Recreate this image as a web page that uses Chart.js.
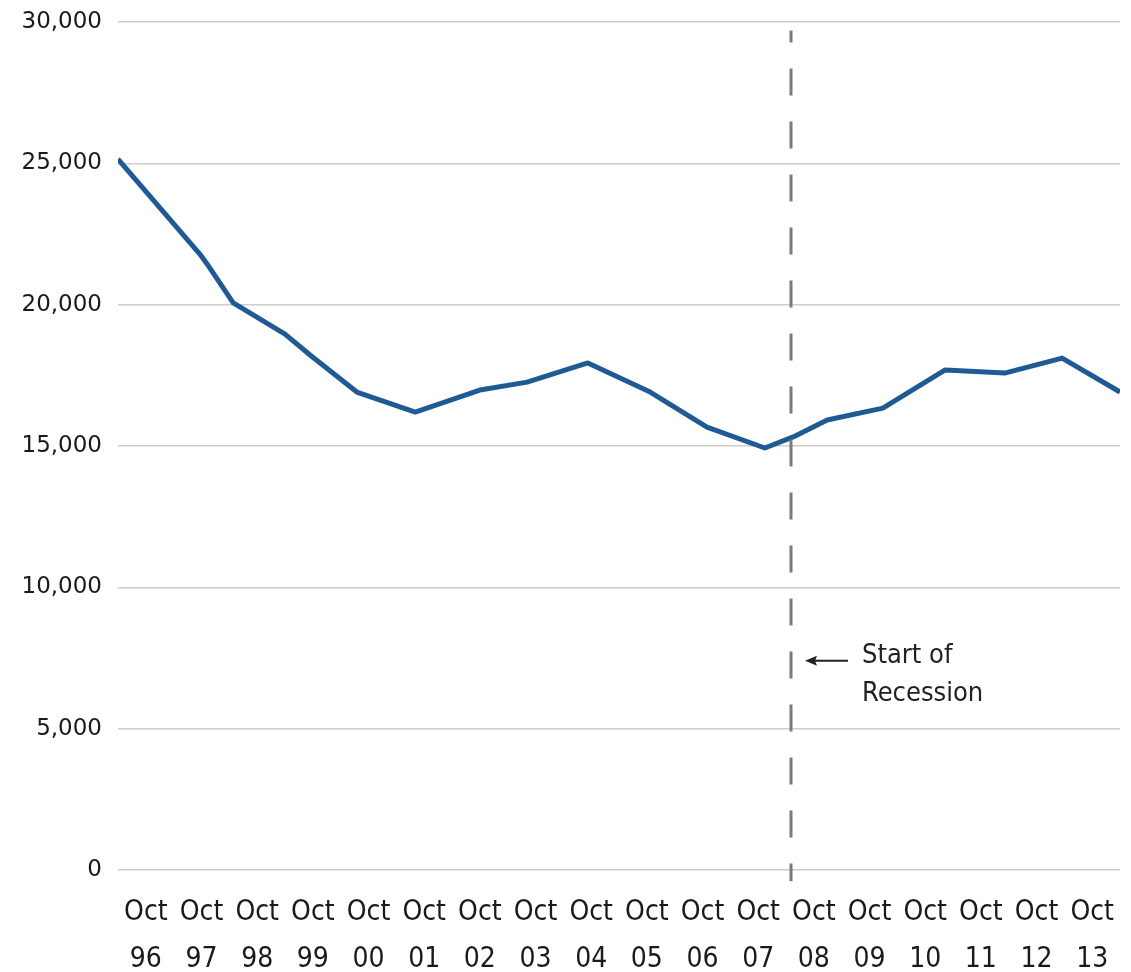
<!DOCTYPE html>
<html>
<head>
<meta charset="utf-8">
<script src="https://cdn.jsdelivr.net/npm/chart.js@4.4.1/dist/chart.umd.min.js"></script>
<style>
  html, body { margin: 0; padding: 0; background: #fff; }
  #wrap { width: 1131px; height: 972px; position: relative; }
</style>
</head>
<body>
<div id="wrap"><canvas id="myLineChart"></canvas></div>
<script>
// x positions are fractional years, each Oct label sits at the middle of its year slot
const dates = [1996.25, 1997.72, 1997.85, 1998.32, 1999.25, 1999.70, 2000.54, 2001.59, 2002.75, 2003.60,
               2004.69, 2005.81, 2006.83, 2007.87, 2008.38, 2008.99, 2009.99, 2011.11, 2012.18, 2013.21, 2014.25];
const counts = [25150, 21790, 21440, 20060, 18960, 18220, 16910, 16200, 16980, 17260,
                17940, 16910, 15670, 14930, 15320, 15920, 16340, 17690, 17580, 18110, 16910];

const tickYears = ['96', '97', '98', '99', '00', '01', '02', '03', '04', '05',
                   '06', '07', '08', '09', '10', '11', '12', '13'];
const firstTick = 1996.75;
const axisStart = 1996.25;
const axisEnd = 2014.25;

const yTicks = [0, 5000, 10000, 15000, 20000, 25000, 30000];

const recessionStart = 2008.34;
const recessionLabel = ['Start of', 'Recession'];
const recessionLabelValue = 7400;

const labelFont = '"Liberation Sans Narrow", "DejaVu Sans Condensed", sans-serif';

// dashed recession marker + arrow note
const recessionPlugin = {
    id: 'recession',
    afterDatasetsDraw(chart) {
        const ctx = chart.ctx;
        const x = chart.scales.x.getPixelForValue(recessionStart);
        const y = chart.scales.y;
        const top = y.getPixelForValue(29700);
        const bottom = y.getPixelForValue(-400);

        ctx.save();
        ctx.strokeStyle = '#7a7a7a';
        ctx.lineWidth = 3;
        ctx.setLineDash([27, 26]);
        ctx.lineDashOffset = 15;
        ctx.beginPath();
        ctx.moveTo(x, top);
        ctx.lineTo(x, bottom);
        ctx.stroke();
        ctx.setLineDash([]);

        const ay = y.getPixelForValue(recessionLabelValue);
        ctx.strokeStyle = '#222';
        ctx.fillStyle = '#222';
        ctx.lineWidth = 2;
        ctx.beginPath();
        ctx.moveTo(x + 57, ay);
        ctx.lineTo(x + 22, ay);
        ctx.stroke();
        ctx.beginPath();
        ctx.moveTo(x + 14, ay);
        ctx.lineTo(x + 26, ay - 5);
        ctx.lineTo(x + 24, ay);
        ctx.lineTo(x + 26, ay + 5);
        ctx.closePath();
        ctx.fill();

        ctx.font = '27px ' + labelFont;
        ctx.textAlign = 'left';
        ctx.textBaseline = 'middle';
        ctx.fillText(recessionLabel[0], x + 71, ay - 5);
        ctx.fillText(recessionLabel[1], x + 71, ay + 33);
        ctx.restore();
    }
};

const ctx = document.getElementById('myLineChart').getContext('2d');
new Chart(ctx, {
    type: 'line',
    data: {
        datasets: [{
            data: dates.map((d, i) => ({ x: d, y: counts[i] })),
            borderColor: '#1f5a95',
            borderWidth: 5,
            borderJoinStyle: 'round',
            pointRadius: 0,
            tension: 0,
            fill: false
        }]
    },
    options: {
        responsive: true,
        maintainAspectRatio: false,
        animation: false,
        layout: {
            padding: { top: 22, right: 11, bottom: 0, left: 0 }
        },
        plugins: {
            legend: { display: false },
            tooltip: { enabled: false }
        },
        scales: {
            x: {
                type: 'linear',
                min: axisStart,
                max: axisEnd,
                grid: { display: false, drawTicks: false },
                border: { display: false },
                afterBuildTicks: function(scale) {
                    scale.ticks = tickYears.map((t, i) => ({ value: firstTick + i }));
                },
                afterFit: function(scale) {
                    scale.height = 102;
                    scale.paddingLeft = 0;
                    scale.paddingRight = 0;
                },
                ticks: {
                    autoSkip: false,
                    maxRotation: 0,
                    padding: 20,
                    color: '#1a1a1a',
                    font: { family: labelFont, size: 28, lineHeight: 1.65 },
                    callback: function(value, index) {
                        return ['Oct', tickYears[index]];
                    }
                }
            },
            y: {
                min: 0,
                max: 30000,
                grid: { color: '#cdcdcd', lineWidth: 1.5, drawTicks: false },
                border: { display: false },
                afterBuildTicks: function(scale) {
                    scale.ticks = yTicks.map(v => ({ value: v }));
                },
                afterFit: function(scale) {
                    scale.width = 118;
                    scale.paddingTop = 0;
                    scale.paddingBottom = 0;
                },
                ticks: {
                    padding: 16,
                    color: '#1a1a1a',
                    font: { family: '"DejaVu Sans", sans-serif', size: 23 },
                    callback: function(value) {
                        return value.toLocaleString('en-US');
                    }
                }
            }
        }
    },
    plugins: [recessionPlugin]
});
</script>
</body>
</html>
